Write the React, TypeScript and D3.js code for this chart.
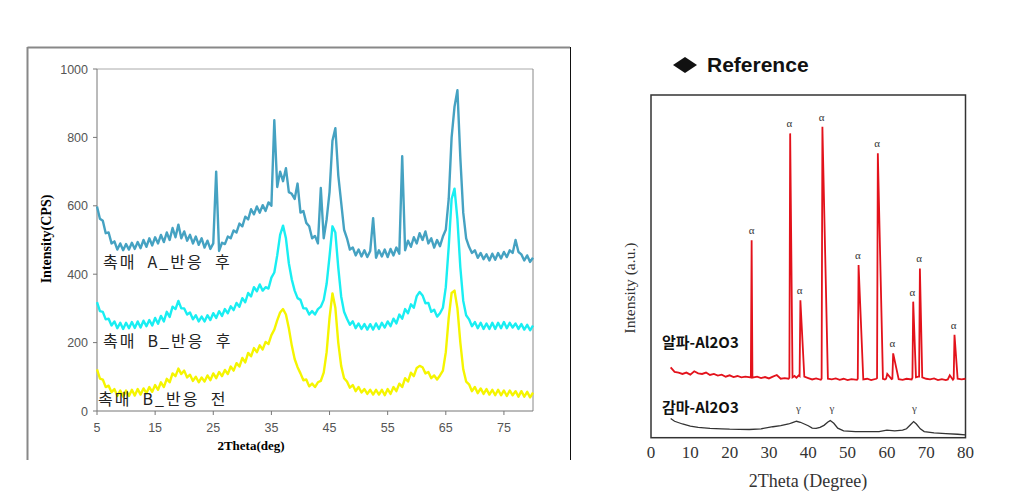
import React from "react";
import * as d3 from "d3";

// ---------- Left chart data (2Theta grid 5..80 step 0.5) ----------
const thetaGrid: number[] = d3.range(5, 80.001, 0.5);

const catalystA_after: number[] = [
  598, 562, 556, 520, 522, 490, 496, 472, 490, 470, 488, 472, 492, 474, 494, 476, 500, 480, 505, 484,
  508, 490, 515, 494, 522, 500, 535, 508, 545, 505, 525, 498, 515, 490, 510, 486, 505, 478, 498, 474,
  490, 700, 468, 492, 488, 510, 505, 528, 522, 548, 540, 568, 560, 590, 575, 598, 580, 602, 585, 610,
  600, 850, 655, 700, 672, 710, 640, 635, 620, 665, 580, 585, 550, 540, 505, 512, 490, 652, 505, 560,
  640, 790, 827, 690, 610, 530, 505, 472, 478, 455, 472, 452, 470, 450, 468, 564, 448, 470, 452, 472,
  450, 474, 455, 478, 460, 745, 470, 498, 480, 508, 490, 520, 500, 525, 490, 505, 478, 500, 482, 510,
  530, 620, 800, 890, 938, 740, 580, 505, 480, 462, 470, 448, 462, 444, 458, 440, 460, 442, 462, 446,
  465, 450, 470, 462, 500, 465, 458, 440, 455, 436, 448,
];

const catalystB_after: number[] = [
  318, 292, 290, 268, 270, 250, 262, 242, 258, 240, 258, 242, 260, 243, 262, 244, 264, 248, 266, 250,
  272, 255, 278, 262, 290, 275, 305, 298, 322, 300, 300, 282, 288, 268, 280, 262, 276, 262, 280, 266,
  286, 272, 292, 278, 298, 286, 306, 295, 316, 305, 330, 318, 345, 335, 362, 350, 370, 352, 362, 358,
  390, 405, 455, 515, 542, 505, 432, 385, 352, 330, 325, 300, 300, 282, 292, 282, 298, 305, 325, 372,
  452, 540, 522, 420, 335, 290, 270, 252, 262, 242, 256, 240, 254, 238, 254, 238, 256, 240, 258, 244,
  262, 248, 270, 256, 282, 270, 298, 286, 312, 302, 336, 348, 338, 315, 316, 290, 296, 276, 286, 302,
  362, 480, 620, 650, 560, 420, 322, 280, 268, 248, 260, 242, 258, 240, 256, 240, 258, 240, 258, 242,
  260, 242, 258, 244, 256, 240, 254, 238, 252, 236, 250,
];

const catalystB_before: number[] = [
  122, 95, 92, 70, 74, 55, 64, 44, 60, 42, 60, 44, 62, 45, 64, 48, 66, 52, 70, 56,
  76, 62, 84, 70, 94, 84, 110, 102, 124, 108, 118, 98, 106, 88, 100, 84, 98, 86, 104, 90,
  110, 96, 114, 102, 120, 108, 130, 118, 140, 130, 155, 142, 170, 160, 184, 172, 192, 180, 202, 196,
  222, 238, 265, 288, 298, 282, 242, 192, 152, 128, 110, 90, 92, 72, 80, 70, 84, 88, 112, 172,
  272, 344, 302, 200, 132, 96, 86, 68, 76, 58, 70, 54, 64, 50, 62, 48, 62, 48, 62, 46,
  64, 50, 70, 58, 80, 70, 96, 86, 112, 102, 126, 132, 128, 110, 114, 96, 104, 92, 104, 118,
  172, 272, 345, 352, 300, 200, 122, 86, 78, 58, 70, 52, 66, 50, 64, 48, 62, 46, 62, 46,
  60, 44, 60, 46, 58, 42, 58, 42, 56, 40, 54,
];

const leftSeriesNames = ["촉매  A_반응  후", "촉매  B_반응  후", "촉매  B_반응  전"];
const leftXTicks = [5, 15, 25, 35, 45, 55, 65, 75];
const leftYTicks = [0, 200, 400, 600, 800, 1000];

// ---------- Right chart data ----------
const alphaTheta: number[] = [
  5, 6, 7, 8, 9, 10, 11, 12, 13, 14, 15, 16, 17, 18, 19, 20, 21, 22, 23, 24, 25.4, 25.6, 25.8,
  27, 28, 29, 30, 31, 32, 33, 34, 35.0, 35.2, 35.4, 36, 36.5, 37, 37.6, 37.8, 38.0, 39, 40, 41, 42, 43.2, 43.4, 43.6,
  45, 46, 47, 48, 49, 50, 51, 52.4, 52.6, 52.8, 54, 55, 56, 57.3, 57.5, 57.7, 59, 59.5, 59.8, 60.1, 61.2, 61.4, 61.6,
  63, 64, 65, 66.3, 66.5, 66.7, 67.4, 68.0, 68.2, 68.4, 69, 70, 71, 72, 73, 74, 75, 75.5, 76, 76.8, 77.0, 77.2, 78, 79, 80,
];
const alphaIntensity: number[] = [
  205, 192, 190, 186, 190, 184, 194, 188, 186, 190, 183, 186, 181, 184, 178, 182, 177, 180, 176, 178, 176, 576, 175,
  178, 174, 177, 173, 178, 183, 172, 174, 172, 175, 888, 176, 180, 175, 182, 180, 401, 178, 174, 170, 173, 169, 172, 907, 172,
  170, 173, 169, 172, 168, 171, 169, 172, 504, 170, 172, 168, 172, 174, 830, 172, 170, 172, 186, 171, 172, 246, 171,
  169, 172, 170, 175, 397, 176, 178, 178, 494, 176, 172, 170, 173, 168, 171, 168, 170, 182, 169, 172, 300, 172, 170, 172, 174,
];
const gammaTheta: number[] = [
  5, 6, 8, 10, 12, 15, 18, 20, 25, 28, 31, 33, 35, 36, 37, 38, 39, 40, 41, 42, 43, 44, 45, 45.6, 46.5, 47.5,
  49, 52, 55, 58, 60, 62, 64, 65, 66, 66.8, 67.5, 68.5, 69.5, 72, 75, 78, 80,
];
const gammaIntensity: number[] = [
  56, 48, 40, 34, 30, 27, 26, 25, 24, 26, 32, 35, 40, 44, 48, 45, 40, 35, 28, 27, 30, 36, 46, 50, 42, 28,
  20, 18, 18, 18, 22, 20, 22, 26, 38, 47, 40, 26, 18, 14, 12, 10, 8,
];
const alphaPeaks: number[] = [25.6, 35.2, 37.8, 43.4, 52.6, 57.5, 61.4, 66.5, 68.2, 77.0];
const alphaPeakHeights: number[] = [576, 888, 401, 907, 504, 830, 246, 397, 494, 300];
const gammaPeaks: number[] = [37.5, 46, 67];
const rightXTicks = [0, 10, 20, 30, 40, 50, 60, 70, 80];
const rightSeriesNames = ["알파-Al2O3", "감마-Al2O3"];

export default function App() {
  // left scales
  const x = d3.scaleLinear().domain([5, 80]).range([97, 533]);
  const y = d3.scaleLinear().domain([0, 1000]).range([411, 69]);
  const line = d3
    .line<number>()
    .x((_, i) => x(thetaGrid[i]))
    .y((d) => y(d));

  const leftSeries = [
    { values: catalystA_after, color: "#45a2c2" },
    { values: catalystB_after, color: "#19eef2" },
    { values: catalystB_before, color: "#f5f500" },
  ];
  const leftLabelPos = [
    { x: 103, y: 268 },
    { x: 103, y: 347 },
    { x: 98, y: 405 },
  ];

  // right scales
  const x2 = d3.scaleLinear().domain([0, 80]).range([651, 965.5]);
  const y2 = d3.scaleLinear().domain([0, 1000]).range([437.7, 95]);
  const pairLine = (xs: number[]) =>
    d3
      .line<number>()
      .x((_, i) => x2(xs[i]))
      .y((d) => y2(d))
      .curve(d3.curveLinear);

  const ff = "'Liberation Sans', Arial, sans-serif";
  const serif = "'Liberation Serif', 'Times New Roman', serif";
  const kr = "'Noto Sans CJK KR', sans-serif";

  return (
    <svg
      width={1011}
      height={504}
      style={{ position: "absolute", left: 0, top: 0, background: "#fff" }}
    >
      <rect x={0} y={0} width={1011} height={504} fill="#fff" />
      {/* Left outer frame */}
      <line x1={27.5} y1={47.5} x2={570} y2={47.5} stroke="#888" strokeWidth={2} />
      <line x1={27.5} y1={47} x2={27.5} y2={460} stroke="#888" strokeWidth={2} />
      <line x1={570.5} y1={47} x2={570.5} y2={460} stroke="#111" strokeWidth={1} />

      {/* Left plot area border */}
      <line x1={x(5)} y1={y(1000)} x2={x(80)} y2={y(1000)} stroke="#aaa" strokeWidth={1} />
      <line x1={x(80)} y1={y(1000)} x2={x(80)} y2={y(0)} stroke="#888" strokeWidth={1} />
      <line x1={x(5)} y1={y(1000)} x2={x(5)} y2={y(0)} stroke="#777" strokeWidth={1} />
      <line x1={x(5)} y1={y(0)} x2={x(80)} y2={y(0)} stroke="#777" strokeWidth={1} />

      {leftYTicks.map((t) => (
        <g key={"ly" + t}>
          <line x1={x(5) - 4} x2={x(5)} y1={y(t)} y2={y(t)} stroke="#777" />
          <text
            x={88}
            y={y(t) + 4.5}
            textAnchor="end"
            fontFamily={ff}
            fontSize={12.5}
            fill="#555"
          >
            {t}
          </text>
        </g>
      ))}
      {leftXTicks.map((t) => (
        <g key={"lx" + t}>
          <line x1={x(t)} x2={x(t)} y1={y(0)} y2={y(0) + 4} stroke="#777" />
          <text
            x={x(t)}
            y={432}
            textAnchor="middle"
            fontFamily={ff}
            fontSize={12.5}
            fill="#555"
          >
            {t}
          </text>
        </g>
      ))}

      {leftSeries.map((s, i) => (
        <path
          key={"ls" + i}
          d={line(s.values) || ""}
          fill="none"
          stroke={s.color}
          strokeWidth={2.4}
          strokeLinejoin="round"
        />
      ))}

      {leftSeriesNames.map((n, i) => (
        <text
          key={"ln" + i}
          x={leftLabelPos[i].x}
          y={leftLabelPos[i].y}
          fontFamily={kr}
          fontSize={16}
          letterSpacing={2}
          fill="#222"
          style={{ whiteSpace: "pre" }}
        >
          {n}
        </text>
      ))}

      <text
        x={251}
        y={450}
        textAnchor="middle"
        fontFamily={serif}
        fontWeight="bold"
        fontSize={13}
        fill="#000"
      >
        2Theta(deg)
      </text>
      <text
        transform="translate(51,239) rotate(-90)"
        textAnchor="middle"
        fontFamily={serif}
        fontWeight="bold"
        fontSize={14}
        fill="#000"
      >
        Intensity(CPS)
      </text>

      {/* Right chart */}
      <path d="M673,65 L685,57 L697,65 L685,73 Z" fill="#111" />
      <text x={707} y={72} fontFamily={ff} fontWeight="bold" fontSize={21} fill="#111">
        Reference
      </text>

      <rect
        x={x2(0)}
        y={y2(1000)}
        width={x2(80) - x2(0)}
        height={y2(0) - y2(1000)}
        fill="none"
        stroke="#333"
        strokeWidth={1.5}
      />

      <path
        d={pairLine(alphaTheta)(alphaIntensity) || ""}
        fill="none"
        stroke="#e3121b"
        strokeWidth={1.8}
      />
      <path
        d={pairLine(gammaTheta)(gammaIntensity) || ""}
        fill="none"
        stroke="#333"
        strokeWidth={1.3}
      />

      {alphaPeaks.map((p, i) => (
        <text
          key={"ap" + i}
          x={x2(p)}
          y={y2(alphaPeakHeights[i]) - 6}
          textAnchor="middle"
          fontFamily={serif}
          fontSize={11}
          fill="#333"
        >
          α
        </text>
      ))}
      {gammaPeaks.map((p, i) => (
        <text
          key={"gp" + i}
          x={x2(p)}
          y={412}
          textAnchor="middle"
          fontFamily={serif}
          fontSize={11}
          fill="#444"
        >
          γ
        </text>
      ))}

      {rightSeriesNames.map((n, i) => (
        <text
          key={"rn" + i}
          x={662}
          y={i === 0 ? 348 : 413}
          fontFamily={kr}
          fontWeight="bold"
          fontSize={15}
          fill="#111"
        >
          {n}
        </text>
      ))}

      {rightXTicks.map((t) => (
        <text
          key={"rx" + t}
          x={x2(t)}
          y={458}
          textAnchor="middle"
          fontFamily={serif}
          fontSize={17}
          fill="#333"
        >
          {t}
        </text>
      ))}
      <text
        x={808}
        y={487}
        textAnchor="middle"
        fontFamily={serif}
        fontSize={18}
        fill="#333"
      >
        2Theta (Degree)
      </text>
      <text
        transform="translate(635,288) rotate(-90)"
        textAnchor="middle"
        fontFamily={serif}
        fontSize={15.5}
        fill="#333"
      >
        Intensity (a.u.)
      </text>
    </svg>
  );
}
